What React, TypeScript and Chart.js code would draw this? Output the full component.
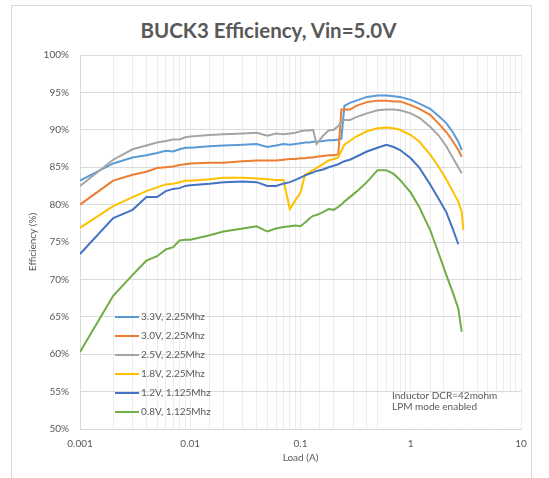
import React, { useEffect, useRef } from 'react';
import { Chart, registerables } from 'chart.js';

Chart.register(...registerables);

const TITLE = 'BUCK3 Efficiency, Vin=5.0V';
const X_TITLE = 'Load (A)';
const Y_TITLE = 'Efficiency (%)';
const X_TICK_LABELS = ['0.001', '0.01', '0.1', '1', '10'];
const NOTE_LINES = ['Inductor DCR=42mohm', 'LPM mode enabled'];

const LOAD_A = [
  0.001, 0.002, 0.003, 0.004, 0.005, 0.006, 0.007, 0.008, 0.009, 0.01,
  0.015, 0.02, 0.03, 0.04, 0.05, 0.06, 0.07, 0.08, 0.09, 0.1,
  0.11, 0.12, 0.13, 0.14, 0.16, 0.18, 0.2, 0.22, 0.235, 0.25,
  0.28, 0.32, 0.4, 0.5, 0.6, 0.7, 0.8, 1.0, 1.2, 1.5,
  1.8, 2.1, 2.4, 2.7, 2.9, 3.0,
];

const EFF_3V3 = [
  83.2, 85.5, 86.3, 86.6, 86.9, 87.2, 87.1, 87.4, 87.6, 87.6,
  87.8, 87.9, 88.0, 88.1, 87.7, 87.9, 88.1, 88.0, 88.1, 88.2,
  88.3, 88.3, 88.4, 88.4, 88.5, 88.6, 88.6, 88.7, 88.8, 93.2,
  93.6, 93.9, 94.4, 94.6, 94.6, 94.5, 94.4, 94.0, 93.5, 92.8,
  91.8, 90.9, 89.7, 88.4, 87.3, null,
];
const EFF_3V0 = [
  80.0, 83.2, 84.0, 84.4, 84.9, 85.0, 85.1, 85.3, 85.4, 85.5,
  85.6, 85.6, 85.8, 85.9, 85.9, 85.9, 86.0, 86.1, 86.1, 86.2,
  86.2, 86.3, 86.3, 86.4, 86.5, 86.6, 86.6, 86.7, 92.7, 92.7,
  92.7, 93.2, 93.7, 93.9, 93.9, 93.8, 93.8, 93.3, 92.8, 92.0,
  90.8, 89.7, 88.5, 87.3, 86.4, null,
];
const EFF_2V5 = [
  82.5, 86.0, 87.4, 87.9, 88.3, 88.5, 88.7, 88.7, 89.0, 89.1,
  89.3, 89.4, 89.5, 89.6, 89.2, 89.5, 89.4, 89.5, 89.6, 89.8,
  89.9, 89.9, 90.0, 88.1, 89.2, 89.9, 90.0, 90.5, 91.1, 91.3,
  91.3, 91.7, 92.2, 92.6, 92.7, 92.7, 92.6, 92.2, 91.6, 90.4,
  89.2, 87.8, 86.3, 85.0, 84.2, null,
];
const EFF_1V8 = [
  76.9, 79.8, 81.0, 81.8, 82.3, 82.7, 82.8, 83.0, 83.2, 83.2,
  83.4, 83.6, 83.6, 83.5, 83.4, 83.3, 83.3, 79.4, 80.6, 81.6,
  84.0, 84.3, 84.6, 84.9, 85.4, 85.9, 86.1, 86.3, 87.2, 88.0,
  88.5, 89.1, 89.8, 90.2, 90.3, 90.2, 90.0, 89.3, 88.4, 86.7,
  85.0, 83.4, 81.8, 80.4, 79.0, 76.6,
];
const EFF_1V2 = [
  73.4, 78.2, 79.3, 81.0, 81.0, 81.8, 82.1, 82.2, 82.5, 82.6,
  82.8, 83.0, 83.1, 83.0, 82.5, 82.5, 82.8, 83.0, 83.3, 83.6,
  83.9, 84.1, 84.3, 84.5, 84.7, 85.0, 85.2, 85.4, 85.6, 85.8,
  86.0, 86.4, 87.1, 87.6, 88.0, 87.7, 87.3, 86.2, 84.9, 82.7,
  80.7, 79.0, 76.8, 74.7, null, null,
];
const EFF_0V8 = [
  60.3, 67.8, 70.6, 72.5, 73.1, 74.0, 74.3, 75.2, 75.3, 75.3,
  75.9, 76.4, 76.8, 77.1, 76.4, 76.8, 77.0, 77.1, 77.2, 77.1,
  77.6, 78.1, 78.5, 78.6, 79.0, 79.4, 79.3, 79.7, 80.0, 80.4,
  81.0, 81.7, 83.0, 84.6, 84.6, 84.1, 83.3, 81.6, 79.6, 76.6,
  73.4, 70.6, 68.3, 66.1, 63.0, null,
];

const SERIES_LABELS = [
  '3.3V, 2.25Mhz',
  '3.0V, 2.25Mhz',
  '2.5V, 2.25Mhz',
  '1.8V, 2.25Mhz',
  '1.2V, 1.125Mhz',
  '0.8V, 1.125Mhz',
];
const SERIES_VALUES = [EFF_3V3, EFF_3V0, EFF_2V5, EFF_1V8, EFF_1V2, EFF_0V8];
const SERIES_COLORS = ['#5B9BD5', '#ED7D31', '#A5A5A5', '#FFC000', '#4472C4', '#70AD47'];

const FONT = 'Lato, "Open Sans", sans-serif';
const TEXT_COLOR = '#595959';

const notePlugin = {
  id: 'noteBox',
  beforeDatasetsDraw(chart: any) {
    const { ctx, chartArea } = chart;
    ctx.save();
    ctx.fillStyle = '#ffffff';
    ctx.fillRect(chartArea.right - 138, chartArea.bottom - 36, 137, 35.5);
    ctx.fillStyle = TEXT_COLOR;
    ctx.font = '10px ' + FONT;
    ctx.textBaseline = 'middle';
    ctx.textAlign = 'left';
    NOTE_LINES.forEach((t, i) => {
      ctx.fillText(t, chartArea.right - 129, chartArea.bottom - 33 + i * 11);
    });
    ctx.restore();
  },
};

const legendPlugin = {
  id: 'insideLegend',
  afterDatasetsDraw(chart: any) {
    const { ctx, chartArea } = chart;
    const x0 = chartArea.left + 35;
    const y0 = chartArea.bottom - 112;
    ctx.save();
    ctx.font = '10px ' + FONT;
    ctx.textBaseline = 'middle';
    ctx.textAlign = 'left';
    chart.data.datasets.forEach((ds: any, i: number) => {
      const y = y0 + i * 19;
      ctx.strokeStyle = ds.borderColor;
      ctx.lineWidth = 2;
      ctx.beginPath();
      ctx.moveTo(x0, y);
      ctx.lineTo(x0 + 24, y);
      ctx.stroke();
      ctx.fillStyle = TEXT_COLOR;
      ctx.fillText(ds.label, x0 + 26, y);
    });
    ctx.restore();
  },
};

export default function App() {
  const canvasRef = useRef<HTMLCanvasElement | null>(null);

  useEffect(() => {
    document.body.style.margin = '0';
    const canvas = canvasRef.current;
    if (!canvas) return;
    const chart = new Chart(canvas, {
      type: 'line',
      data: {
        datasets: SERIES_LABELS.map((label, i) => ({
          label,
          data: LOAD_A.map((x, j) => ({ x, y: SERIES_VALUES[i][j] as any })).filter((p) => p.y !== null),
          borderColor: SERIES_COLORS[i],
          backgroundColor: SERIES_COLORS[i],
          borderWidth: 2,
          pointRadius: 0,
          tension: 0,
          fill: false,
          order: SERIES_LABELS.length - i,
        })),
      },
      options: {
        animation: false,
        responsive: false,
        devicePixelRatio: 1,
        layout: { padding: { top: 55, left: 20, right: 28, bottom: 9 } },
        plugins: {
          legend: { display: false },
          tooltip: { enabled: false },
          title: { display: false },
        },
        scales: {
          x: {
            type: 'logarithmic',
            min: 0.001,
            max: 10,
            afterFit: (s: any) => {
              s.height = 40;
            },
            grid: { color: '#ececec', drawTicks: false, lineWidth: 1 },
            border: { color: '#d9d9d9' },
            ticks: {
              autoSkip: false,
              maxRotation: 0,
              padding: 9,
              color: TEXT_COLOR,
              font: { family: FONT, size: 10 },
              callback: (v: any) => {
                const l = Math.log10(Number(v));
                if (Math.abs(l - Math.round(l)) < 1e-6) {
                  return X_TICK_LABELS[Math.round(l) + 3] ?? '';
                }
                return '';
              },
            },
            title: {
              display: true,
              text: X_TITLE,
              color: TEXT_COLOR,
              font: { family: FONT, size: 10 },
              padding: { top: 0, bottom: 5 },
            },
          },
          y: {
            type: 'linear',
            min: 50,
            max: 100,
            afterFit: (s: any) => {
              s.width = 60;
            },
            grid: { color: '#dcdcdc', drawTicks: false, lineWidth: 1 },
            border: { color: '#d9d9d9' },
            ticks: {
              stepSize: 5,
              padding: 11,
              color: TEXT_COLOR,
              font: { family: FONT, size: 10 },
              callback: (v: any) => v + '%',
            },
            title: {
              display: true,
              text: Y_TITLE,
              color: TEXT_COLOR,
              font: { family: FONT, size: 10 },
              padding: { top: 7, bottom: 0 },
            },
          },
        },
      },
      plugins: [notePlugin, legendPlugin],
    });
    return () => chart.destroy();
  }, []);

  return (
    <div style={{ position: 'relative', width: 549, height: 478, background: '#fff' }}>
      <div
        style={{
          position: 'absolute',
          left: 11,
          top: 5,
          width: 521,
          height: 480,
          borderLeft: '1px solid #d9d9d9',
          borderTop: '1px solid #d9d9d9',
          borderRight: '1px solid #d9d9d9',
          boxSizing: 'border-box',
          pointerEvents: 'none',
        }}
      />
      <div
        style={{
          position: 'absolute',
          left: 0,
          top: 17,
          width: 537,
          textAlign: 'center',
          fontFamily: FONT,
          fontWeight: 700,
          fontSize: 20.5,
          lineHeight: '26px',
          color: TEXT_COLOR,
        }}
      >
        {TITLE}
      </div>
      <canvas ref={canvasRef} width={549} height={478} style={{ position: 'absolute', left: 0, top: 0, width: 549, height: 478 }} />
    </div>
  );
}
